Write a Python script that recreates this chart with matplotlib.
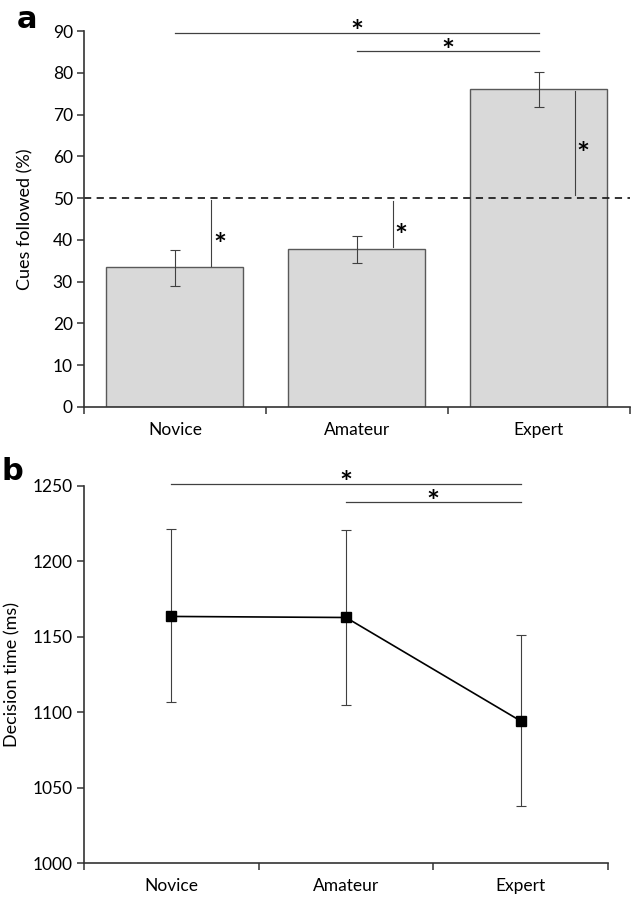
import numpy as np
import matplotlib.pyplot as plt

plt.rcParams['font.family'] = ['Lato', 'DejaVu Sans']

categories = ['Novice', 'Amateur', 'Expert']

# panel a: cues followed (%)
cues = [33.4, 37.8, 76.2]
cues_lo = [28.9, 34.4, 71.7]
cues_hi = [37.6, 41.0, 80.2]
chance = 50
# vertical lines vs. chance (start, end)
chance_lines = [(33.8, 49.5), (38.2, 49.3), (50.8, 75.7)]

# panel b: decision time (ms)
dtime = [1163.5, 1162.8, 1094.2]
dtime_lo = [1106.9, 1104.9, 1037.8]
dtime_hi = [1221.5, 1221.0, 1151.5]

grey = '#404040'
fs = 12.5
x = np.arange(len(categories)) + 0.5

fig = plt.figure(figsize=(6.31, 8.97), dpi=100)
ax1 = fig.add_axes([0.133, 0.5463, 0.865, 0.4191])
ax2 = fig.add_axes([0.133, 0.0379, 0.8305, 0.4203])


def style_axis(ax):
    for s in ['top', 'right']:
        ax.spines[s].set_visible(False)
    for s in ['left', 'bottom']:
        ax.spines[s].set_color('#333333')
        ax.spines[s].set_linewidth(1.2)
    ax.set_xlim(0, 3)
    ax.set_xticks([0, 1, 2, 3])
    ax.set_xticklabels([])
    ax.set_xticks(x, minor=True)
    ax.set_xticklabels(categories, minor=True, fontsize=fs)
    ax.tick_params(axis='x', which='major', length=5, width=1.1, color='#333333', direction='out')
    ax.tick_params(axis='x', which='minor', length=0, pad=11)
    ax.tick_params(axis='y', length=5, width=1.1, color='#333333', labelsize=fs, pad=3)


def star(ax, xs, ys):
    ax.text(xs, ys, '*', fontsize=22, fontweight='bold', ha='center', va='center')


# ---- panel a
style_axis(ax1)
cues = np.array(cues)
err1 = [cues - np.array(cues_lo), np.array(cues_hi) - cues]
ax1.bar(x, cues, width=0.753, color='#d9d9d9', edgecolor='#595959', linewidth=1)
ax1.errorbar(x, cues, yerr=err1, fmt='none', ecolor=grey, elinewidth=0.8, capsize=3.5, capthick=0.8)
ax1.axhline(chance, color='#222222', linestyle=(0, (4, 3)), linewidth=1.3, clip_on=False)
ax1.set_ylim(0, 90)
ax1.set_yticks(range(0, 91, 10))
ax1.set_ylabel('Cues followed (%)', fontsize=13, labelpad=14)

for xi, (y0, y1) in zip(x, chance_lines):
    ax1.plot([xi + 0.2, xi + 0.2], [y0, y1], color=grey, lw=0.8)
    star(ax1, xi + 0.245, (y0 + y1) / 2 - 3)

ax1.plot([x[0], x[2]], [89.6, 89.6], color=grey, lw=0.9, clip_on=False)
star(ax1, (x[0] + x[2]) / 2, 89.5)
ax1.plot([x[1], x[2]], [85.2, 85.2], color=grey, lw=0.9, clip_on=False)
star(ax1, (x[1] + x[2]) / 2, 85.1)

# ---- panel b
style_axis(ax2)
dtime = np.array(dtime)
err2 = [dtime - np.array(dtime_lo), np.array(dtime_hi) - dtime]
ax2.errorbar(x, dtime, yerr=err2, fmt='none', ecolor=grey, elinewidth=0.8, capsize=3.5, capthick=0.8)
ax2.plot(x, dtime, color='black', lw=1.2, marker='s', markersize=7.5)
ax2.set_ylim(1000, 1250)
ax2.set_yticks(range(1000, 1251, 50))
ax2.set_ylabel('Decision time (ms)', fontsize=13, labelpad=9)

ax2.plot([x[0], x[2]], [1251.3, 1251.3], color=grey, lw=0.9, clip_on=False)
star(ax2, (x[0] + x[2]) / 2, 1251)
ax2.plot([x[1], x[2]], [1239.2, 1239.2], color=grey, lw=0.9, clip_on=False)
star(ax2, (x[1] + x[2]) / 2, 1239)

fig.text(0.027, 0.9688, 'a', fontsize=22, fontweight='bold', family='DejaVu Sans', va='baseline')
fig.text(0.0016, 0.4649, 'b', fontsize=22, fontweight='bold', family='DejaVu Sans', va='baseline')

fig.savefig('out.png', dpi=100)
